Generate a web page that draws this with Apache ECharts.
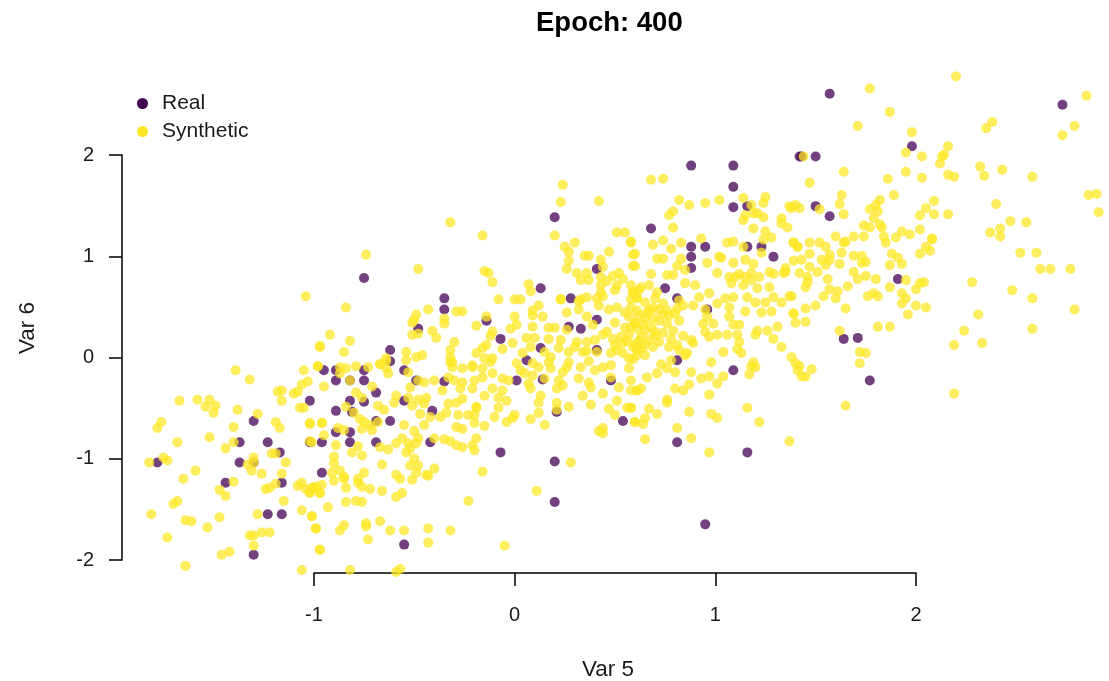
<!DOCTYPE html>
<html>
<head>
<meta charset="utf-8">
<style>html,body{margin:0;padding:0;background:#fff}#c{width:1109px;height:681px}</style>
<script src="https://cdn.jsdelivr.net/npm/echarts@6/dist/echarts.min.js"></script>
</head>
<body>
<div id="c"></div>
<script>
const chartTitle = 'Epoch: 400';
const xName = 'Var 5';
const yName = 'Var 6';
const seriesNames = ['Real', 'Synthetic'];
const xRange = [-1.956, 2.917];
const yRange = [-2.13, 2.774];
const xTickRange = [-1, 2];
const yTickRange = [-2, 2];

const realPoints = [
[-1.78,-1.04],[-1.30,-0.63],[-1.37,-0.84],[-1.23,-0.84],[-1.02,-0.43],[-1.02,-0.84],[-0.96,-0.84],[-1.17,-0.94],[-1.37,-1.04],[-1.30,-1.04],
[-1.44,-1.24],[-1.16,-1.24],[-1.23,-1.55],[-1.16,-1.55],[-1.30,-1.95],[-0.96,-1.14],[-0.75,0.78],[-0.35,0.58],[-0.35,0.47],[-0.48,0.28],
[-0.62,0.07],[-0.62,-0.04],[-0.55,-0.13],[-0.75,-0.13],[-0.89,-0.13],[-0.95,-0.13],[-0.89,-0.23],[-0.82,-0.23],[-0.75,-0.23],[-0.49,-0.23],
[-0.35,-0.24],[-0.69,-0.35],[-0.82,-0.43],[-0.75,-0.44],[-0.55,-0.43],[-0.89,-0.53],[-0.81,-0.54],[-0.41,-0.53],[-0.69,-0.63],[-0.62,-0.63],
[-0.89,-0.74],[-0.82,-0.74],[-0.82,-0.84],[-0.69,-0.84],[-0.42,-0.84],[-0.55,-1.85],[0.20,1.38],[0.41,0.87],[0.13,0.68],[0.28,0.58],
[-0.14,0.36],[-0.07,0.18],[0.27,0.30],[0.33,0.28],[0.41,0.37],[0.13,0.09],[0.06,-0.03],[0.01,-0.23],[0.14,-0.22],[0.41,0.07],
[0.48,-0.23],[0.21,-0.54],[0.54,-0.63],[0.88,1.89],[1.09,1.89],[1.09,1.68],[1.09,1.48],[1.16,1.49],[0.68,1.27],[0.88,1.09],
[0.95,1.09],[0.88,0.99],[0.88,0.88],[1.16,1.09],[1.23,1.09],[1.29,0.99],[1.42,1.98],[0.75,0.68],[0.81,0.58],[0.96,0.47],
[0.81,-0.03],[1.09,-0.13],[0.81,-0.84],[1.16,-0.94],[0.95,-1.65],[0.20,-1.43],[0.20,-1.03],[1.57,2.60],[2.73,2.49],[1.98,2.08],
[1.43,1.98],[1.50,1.98],[1.50,1.49],[1.57,1.39],[1.91,0.77],[1.64,0.18],[1.71,0.19],[1.77,-0.23],[-0.07,-0.94]
];

const syntheticLow = [
[-0.97,0.10],[-1.39,-0.13],[-1.32,-0.22],[-1.05,-0.13],[-0.98,-0.09],[-1.03,-0.24],[-1.06,-0.27],[-1.08,-0.34],[-1.10,-0.36],[-1.16,-0.33],
[-1.18,-0.34],[-1.16,-0.43],[-1.67,-0.43],[-1.58,-0.42],[-1.52,-0.42],[-1.49,-0.48],[-1.54,-0.49],[-1.50,-0.55],[-1.38,-0.52],[-1.28,-0.56],
[-1.07,-0.50],[-1.05,-0.50],[-1.76,-0.64],[-1.78,-0.70],[-1.40,-0.69],[-1.19,-0.64],[-1.17,-0.70],[-1.02,-0.66],[-0.96,-0.65],[-1.52,-0.79],
[-1.68,-0.84],[-1.40,-0.84],[-1.44,-0.90],[-1.02,-0.83],[-1.21,-0.95],[-1.19,-0.95],[-1.14,-1.04],[-1.82,-1.04],[-1.75,-0.99],[-1.73,-1.02],
[-1.30,-0.99],[-1.33,-1.06],[-1.30,-1.04],[-1.59,-1.12],[-1.65,-1.20],[-1.31,-1.12],[-1.26,-1.15],[-1.16,-1.15],[-1.40,-1.23],[-1.47,-1.31],
[-1.44,-1.37],[-1.24,-1.30],[-1.22,-1.29],[-1.19,-1.25],[-1.08,-1.27],[-1.06,-1.24],[-1.04,-1.30],[-1.02,-1.33],[-1.00,-1.29],[-0.96,-1.26],
[-0.97,-1.34],[-1.15,-1.42],[-1.68,-1.42],[-1.70,-1.45],[-1.81,-1.55],[-1.64,-1.61],[-1.61,-1.62],[-1.47,-1.58],[-1.53,-1.68],[-1.28,-1.55],
[-1.06,-1.51],[-1.01,-1.57],[-0.99,-1.69],[-1.73,-1.78],[-1.32,-1.76],[-1.30,-1.76],[-1.26,-1.73],[-1.22,-1.73],[-1.30,-1.86],[-1.42,-1.92],
[-1.46,-1.95],[-0.97,-1.90],[-1.64,-2.06],[-1.06,-2.10]
];

const syntheticMidLeft = [
[-0.74,1.01],[-0.48,0.87],[-1.04,0.60],[-0.84,0.49],[-0.43,0.47],[-0.29,0.45],[-0.26,0.45],[-0.49,0.42],[-0.50,0.37],[-0.51,0.34],
[-0.35,0.38],[-0.35,0.33],[-0.41,0.26],[-0.39,0.19],[-0.51,0.22],[-0.48,0.23],[-0.92,0.22],[-0.82,0.16],[-0.97,0.11],[-0.85,0.05],
[-0.30,0.15],[-0.32,0.07],[-0.54,0.05],[-0.32,0.00],[-0.54,-0.03],[-0.49,0.00],[-0.46,0.02],[-0.64,-0.01],[-0.67,-0.07],[-0.64,-0.04],
[-0.31,-0.05],[-0.98,-0.09],[-0.84,-0.11],[-0.87,-0.10],[-0.79,-0.09],[-0.87,-0.16],[-0.73,-0.10],[-0.67,-0.07],[-0.64,-0.11],[-0.63,-0.16],
[-0.53,-0.15],[-0.48,-0.23],[-0.45,-0.25],[-0.40,-0.23],[-0.32,-0.05],[-0.31,-0.10],[-0.26,-0.11],[-0.21,-0.10],[-0.30,-0.23],[-0.26,-0.25],
[-0.33,-0.20],[-0.36,-0.33],[-0.27,-0.31],[-0.26,-0.41],[-0.33,-0.46],[-0.29,-0.45],[-0.21,-0.31],[-0.20,-0.23],[-0.52,-0.30],[-0.95,-0.29],
[-0.82,-0.23],[-0.79,-0.35],[-0.71,-0.29],[-0.76,-0.40],[-0.84,-0.49],[-0.80,-0.55],[-0.68,-0.48],[-0.65,-0.52],[-0.59,-0.38],[-0.60,-0.45],
[-0.53,-0.40],[-0.48,-0.42],[-0.44,-0.40],[-0.45,-0.46],[-0.51,-0.48],[-0.47,-0.56],[-0.42,-0.59],[-0.34,-0.55],[-0.37,-0.59],[-0.28,-0.57],
[-0.23,-0.57],[-0.19,-0.50],[-0.96,-0.65],[-1.02,-0.65],[-0.77,-0.61],[-0.75,-0.64],[-0.76,-0.71],[-0.72,-0.67],[-0.71,-0.72],[-0.68,-0.64],
[-0.88,-0.70],[-0.85,-0.72],[-0.95,-0.77],[-0.55,-0.67],[-0.45,-0.67],[-0.50,-0.73],[-0.29,-0.69],[-0.26,-0.71],[-0.20,-0.65],[-0.48,-0.80],
[-0.56,-0.80],[-0.59,-0.85],[-0.53,-0.85],[-0.49,-0.85],[-0.67,-0.89],[-0.63,-0.91],[-0.40,-0.80],[-0.35,-0.81],[-0.32,-0.83],[-0.29,-0.87],
[-0.26,-0.89],[-0.21,-0.87],[-0.19,-0.80],[-0.20,-0.92],[-1.01,-0.84],[-0.89,-0.87],[-0.81,-0.94],[-0.78,-0.88],[-0.76,-0.97],[-0.90,-0.98],
[-0.52,-0.90],[-0.54,-0.94],[-0.50,-1.00],[-0.52,-1.07],[-0.48,-1.07],[-0.49,-1.14],[-0.66,-1.06],[-0.40,-1.10],[-0.44,-1.16],[-0.75,-1.14],
[-0.59,-1.16],[-0.90,-1.05],[-0.87,-1.12],[-0.91,-1.14],[-0.85,-1.18],[-0.78,-1.20],[-0.57,-1.20],[-0.51,-1.21],[-0.43,-1.17],[-0.16,-1.13],
[-0.99,-1.28],[-1.01,-1.29],[-1.02,-1.34],[-0.97,-1.34],[-0.90,-1.22],[-0.85,-1.20],[-0.78,-1.24],[-0.76,-1.28],[-0.84,-1.29],[-0.72,-1.30],
[-0.66,-1.32],[-0.56,-1.34],[-0.59,-1.38],[0.11,-1.32],[-0.23,-1.42],[-0.93,-1.48],[-0.84,-1.43],[-0.79,-1.42],[-0.76,-1.43],[-1.01,-1.57],
[-0.99,-1.69],[-0.85,-1.66],[-0.87,-1.71],[-0.74,-1.64],[-0.74,-1.67],[-0.67,-1.62],[-0.62,-1.71],[-0.55,-1.71],[-0.43,-1.69],[-0.32,-1.71],
[-0.73,-1.80],[-0.43,-1.83],[-0.05,-1.86],[-0.97,-1.90],[-0.82,-2.10],[-0.57,-2.09],[-0.59,-2.12],[-0.32,1.33]
];

const syntheticCentre = [
[0.24,1.70],[0.23,1.53],[0.42,1.54],[-0.16,1.20],[0.20,1.20],[0.51,1.23],[0.55,1.23],[0.58,1.14],[0.30,1.13],[0.25,1.09],
[0.27,1.04],[0.47,1.04],[0.35,1.00],[0.37,1.00],[0.59,1.01],[0.27,0.95],[0.43,0.96],[0.44,0.89],[0.26,0.87],[0.59,0.90],
[-0.15,0.85],[-0.13,0.83],[-0.11,0.74],[0.07,0.72],[0.08,0.65],[0.31,0.83],[0.36,0.83],[0.33,0.76],[0.37,0.76],[0.43,0.79],
[0.46,0.75],[0.49,0.80],[0.52,0.83],[0.54,0.77],[0.51,0.71],[0.50,0.66],[0.43,0.71],[0.43,0.64],[0.58,0.71],[0.59,0.64],
[0.62,0.66],[-0.08,0.57],[-0.00,0.57],[0.03,0.57],[0.23,0.57],[0.36,0.59],[0.33,0.57],[0.41,0.58],[0.44,0.60],[0.61,0.59],
[-0.14,0.40],[-0.00,0.40],[0.12,0.51],[0.09,0.46],[0.14,0.40],[0.09,0.41],[-0.19,0.31],[-0.11,0.25],[-0.12,0.21],[-0.02,0.28],
[0.01,0.32],[-0.01,0.14],[-0.06,0.08],[-0.14,0.12],[-0.16,0.09],[-0.19,0.04],[0.09,0.30],[0.17,0.29],[0.20,0.29],[0.06,0.19],
[0.10,0.19],[0.17,0.18],[0.04,0.04],[0.08,0.10],[0.15,0.05],[0.26,0.44],[0.26,0.27],[0.32,0.47],[0.36,0.40],[0.23,0.57],
[0.32,0.55],[0.42,0.51],[0.47,0.47],[0.39,0.32],[0.46,0.25],[0.50,0.34],[0.58,0.57],[0.51,0.49],[0.57,0.40],[0.60,0.34],
[0.55,0.29],[0.40,0.17],[0.31,0.15],[0.23,0.17],[0.36,0.15],[0.27,0.05],[0.34,0.05],[0.41,0.05],[0.48,0.04],[0.54,0.14],
[0.59,0.10],[0.54,0.04],[0.57,-0.01],[0.61,0.02],[0.51,0.07],[-0.15,-0.01],[-0.11,-0.01],[-0.21,-0.08],[-0.16,-0.11],[-0.12,-0.05],
[0.01,-0.06],[0.03,-0.13],[0.09,-0.06],[0.17,-0.05],[0.18,-0.11],[0.26,-0.10],[0.24,-0.15],[0.33,-0.10],[0.40,-0.13],[0.44,-0.10],
[0.48,-0.08],[0.57,-0.11],[-0.16,-0.20],[-0.11,-0.16],[-0.06,-0.21],[-0.03,-0.23],[0.09,-0.18],[0.15,-0.21],[0.22,-0.23],[0.32,-0.21],
[0.37,-0.25],[0.48,-0.20],[0.07,-0.26],[0.08,-0.31],[0.21,-0.31],[0.24,-0.28],[0.38,-0.30],[0.34,-0.38],[0.52,-0.30],[0.58,-0.33],
[0.61,-0.33],[0.44,-0.36],[-0.11,-0.31],[-0.06,-0.33],[-0.15,-0.38],[-0.08,-0.40],[-0.04,-0.43],[0.13,-0.38],[0.12,-0.45],[0.21,-0.45],
[0.27,-0.49],[0.38,-0.47],[0.51,-0.43],[-0.19,-0.49],[-0.08,-0.50],[0.08,-0.61],[0.12,-0.55],[0.00,-0.57],[-0.01,-0.60],[-0.04,-0.64],
[-0.10,-0.59],[-0.20,-0.57],[0.47,-0.51],[0.50,-0.57],[0.58,-0.50],[0.60,-0.64],[0.15,-0.67],[-0.15,-0.68],[0.44,-0.70],[0.21,-0.52],
[0.56,-0.50],[0.74,1.76],[0.68,1.75],[0.82,1.55],[0.87,1.50],[0.95,1.52],[1.02,1.55],[1.14,1.57],[1.25,1.58],[1.24,1.52],
[1.18,1.50],[0.79,1.44],[0.77,1.40],[1.15,1.40],[1.14,1.35],[1.19,1.42],[1.21,1.42],[1.24,1.38],[1.38,1.47],[1.37,1.49],
[1.40,1.50],[1.33,1.37],[1.33,1.32],[1.36,1.28],[0.79,1.28],[1.19,1.27],[1.25,1.24],[1.28,1.18],[1.24,1.16],[0.93,1.17],
[0.83,1.13],[0.74,1.15],[0.69,1.11],[0.58,1.13],[0.60,1.02],[0.78,1.07],[1.06,1.13],[1.09,1.14],[1.14,1.09],[1.23,1.03],
[1.39,1.13],[1.41,1.09],[0.71,0.97],[0.74,0.97],[0.83,0.97],[1.03,0.98],[1.15,0.96],[0.60,0.90],[0.96,0.93],[0.81,0.90],
[1.09,0.93],[1.19,0.92],[1.39,0.95],[1.02,0.99],[0.85,0.86],[0.68,0.82],[0.76,0.81],[0.79,0.81],[1.01,0.83],[1.12,0.82],
[1.15,0.79],[1.35,0.88],[1.35,0.84],[1.29,0.82],[1.34,0.83],[1.18,0.83],[1.07,0.79],[1.27,0.84],[1.22,0.79],[1.10,0.79],
[1.18,0.76],[0.28,-1.04],[0.44,-0.75],[0.42,-0.73],[0.64,-0.66]
];

const syntheticRightDense = [
[0.59,0.64],[0.63,0.69],[0.67,0.71],[0.71,0.64],[0.70,0.58],[0.65,0.54],[0.61,0.58],[0.58,0.49],[0.61,0.46],[0.67,0.46],
[0.74,0.53],[0.76,0.46],[0.77,0.41],[0.69,0.39],[0.65,0.38],[0.60,0.33],[0.61,0.28],[0.65,0.26],[0.76,0.33],[0.82,0.36],
[0.79,0.26],[0.70,0.25],[0.74,0.24],[0.63,0.20],[0.67,0.17],[0.60,0.13],[0.65,0.12],[0.69,0.10],[0.84,0.21],[0.88,0.17],
[0.89,0.14],[0.77,0.10],[0.81,0.12],[0.82,0.07],[0.86,0.04],[0.85,0.02],[0.61,0.07],[0.65,0.02],[0.59,-0.02],[0.78,-0.03],
[0.73,-0.07],[0.76,-0.11],[0.88,-0.15],[0.80,-0.15],[0.71,-0.16],[0.66,-0.20],[0.58,-0.23],[0.63,-0.31],[0.61,-0.33],[0.80,-0.31],
[0.84,-0.33],[0.87,-0.27],[0.93,-0.21],[0.97,-0.19],[1.01,-0.26],[1.04,-0.19],[0.98,-0.05],[1.04,0.05],[0.97,-0.37],[0.76,-0.42],
[0.76,-0.45],[0.58,-0.50],[0.67,-0.51],[0.71,-0.56],[0.65,-0.60],[0.60,-0.64],[0.87,-0.54],[0.81,-0.70],[0.65,-0.81],[0.88,-0.80],
[1.16,-0.50],[0.98,-0.56],[1.01,-0.60],[1.22,-0.64],[0.97,-0.94],[1.37,-0.83],[1.29,0.18],[1.33,0.10],[1.38,0.00],[1.40,-0.06],
[1.42,-0.09],[1.41,-0.13],[1.45,-0.19],[1.19,-0.05],[1.18,-0.09],[1.20,-0.10],[1.17,-0.17],[1.11,0.08],[1.13,0.04],[1.12,0.15],
[1.11,0.22],[1.12,0.32],[1.09,0.32],[1.07,0.40],[1.06,0.22],[1.01,0.22],[0.97,0.20],[0.95,0.25],[0.99,0.33],[0.94,0.33],
[0.96,0.40],[0.95,0.47],[1.01,0.53],[0.92,0.59],[0.97,0.63],[0.89,0.51],[0.84,0.51],[0.82,0.56],[0.81,0.48],[1.07,0.49],
[1.09,0.59],[1.05,0.58],[1.16,0.59],[1.20,0.54],[1.25,0.54],[1.29,0.59],[1.33,0.54],[1.38,0.60],[1.15,0.45],[1.23,0.44],
[1.28,0.45],[1.39,0.43],[1.40,0.34],[1.31,0.30],[1.26,0.26],[1.21,0.26],[1.20,0.22],[1.08,0.73],[1.14,0.71],[1.27,0.69],
[1.21,0.68],[0.90,0.71],[0.85,0.73],
[0.62,0.41],[0.64,0.32],[0.68,0.30],[0.72,0.36],[0.70,0.21],[0.72,0.15],[0.62,0.16],[0.57,0.22],[0.56,0.16],[0.74,0.42],
[0.78,0.18],[0.66,0.44],[0.55,0.44],[0.53,0.20],[0.49,0.18],[0.69,0.49],[0.72,0.47],[0.80,0.43],[0.58,0.30],[0.63,0.09],
[0.50,0.12],[0.44,0.22],[0.36,0.06],[0.30,0.10],[0.22,0.09],[0.18,0.00],[0.12,-0.10],[0.05,-0.16],[0.27,-0.05],[0.37,-0.04]
];

const syntheticRight = [
[1.77,2.65],[2.85,2.58],[1.87,2.42],[1.71,2.28],[2.79,2.28],[2.38,2.32],[2.35,2.26],[2.73,2.19],[1.98,2.22],[2.13,1.98],
[2.16,2.08],[2.14,2.00],[1.95,2.02],[2.03,1.98],[1.44,1.98],[2.12,1.91],[2.32,1.88],[2.43,1.85],[2.34,1.79],[2.58,1.78],
[1.64,1.83],[1.86,1.76],[1.95,1.83],[2.03,1.77],[2.16,1.80],[2.19,1.78],[1.47,1.72],[1.63,1.60],[1.89,1.60],[1.62,1.51],
[2.86,1.60],[2.90,1.61],[1.64,1.41],[1.82,1.55],[1.80,1.50],[1.77,1.46],[1.81,1.44],[1.79,1.37],[2.09,1.54],[2.05,1.47],
[2.02,1.40],[2.09,1.41],[2.16,1.41],[2.40,1.51],[2.91,1.43],[1.52,1.46],[1.42,1.47],[1.74,1.30],[1.77,1.28],[1.82,1.31],
[1.83,1.28],[1.84,1.19],[2.02,1.26],[1.93,1.24],[1.97,1.21],[2.47,1.34],[2.55,1.33],[2.42,1.27],[2.37,1.23],[2.42,1.19],
[1.60,1.19],[1.69,1.19],[1.74,1.19],[1.65,1.14],[1.90,1.18],[2.08,1.17],[1.39,1.13],[1.41,1.09],[1.47,1.13],[1.52,1.13],
[1.55,1.09],[1.64,1.13],[1.85,1.13],[2.08,1.16],[2.05,1.09],[2.07,1.05],[2.02,1.02],[1.47,1.02],[1.57,1.01],[1.63,1.03],
[1.69,1.00],[1.73,1.00],[1.88,1.02],[1.91,0.98],[2.52,1.03],[2.60,1.03],[2.62,0.87],[2.67,0.87],[2.77,0.87],[1.43,0.96],
[1.53,0.96],[1.57,0.96],[1.75,0.94],[1.73,0.93],[1.47,0.89],[1.55,0.91],[1.62,0.92],[1.87,0.91],[1.93,0.92],[2.02,0.73],
[1.42,0.83],[1.51,0.84],[1.69,0.84],[1.75,0.80],[1.46,0.79],[1.56,0.77],[1.71,0.77],[1.80,0.77],[1.95,0.76],[2.04,0.74],
[2.28,0.74],[1.46,0.74],[1.45,0.69],[1.66,0.70],[1.87,0.69],[2.00,0.67],[1.57,0.67],[1.61,0.65],[1.79,0.63],[1.93,0.63],
[2.48,0.66],[1.37,0.60],[1.54,0.60],[1.60,0.58],[1.76,0.60],[1.81,0.60],[1.95,0.58],[2.58,0.58],[1.93,0.53],[2.00,0.51],
[2.05,0.49],[1.45,0.48],[1.50,0.51],[1.65,0.48],[2.79,0.47],[1.39,0.43],[1.96,0.42],[2.31,0.42],[1.45,0.35],[1.81,0.30],
[1.87,0.30],[2.58,0.28],[1.62,0.26],[2.24,0.26],[2.19,0.12],[2.33,0.14],[1.72,0.05],[1.75,0.04],[1.72,-0.06],[1.48,-0.12],
[1.43,-0.19],[2.19,-0.36],[1.65,-0.48],[2.20,2.77]
];

const syntheticPoints = [].concat(syntheticLow, syntheticMidLeft, syntheticCentre, syntheticRightDense, syntheticRight);

const chart = echarts.init(document.getElementById('c'), null, {renderer: 'canvas'});
const font = '"Liberation Sans", Arial, sans-serif';
const textColor = '#1a1a1a';
const axisLine = {show: true, lineStyle: {color: '#000', width: 1.5}};
const axisTick = {show: true, length: 13, lineStyle: {color: '#000', width: 1.5}};

chart.setOption({
  animation: false,
  backgroundColor: '#fff',
  title: {text: chartTitle, left: 531, top: 4,
    textStyle: {fontFamily: font, fontSize: 27.5, fontWeight: 'bold', color: '#000'}},
  legend: {
    left: 132, top: 88, orient: 'vertical', itemGap: 7, itemWidth: 11, itemHeight: 11,
    icon: 'circle', data: seriesNames,
    itemStyle: {opacity: 1},
    textStyle: {fontFamily: font, fontSize: 21, color: textColor, padding: [0, 0, 0, 9]}
  },
  grid: [
    {left: 122, right: 9, top: 76, bottom: 108},
    {left: 314, width: 602, top: 500, height: 73},
    {left: 122, width: 100, top: 155, height: 405}
  ],
  xAxis: [
    {gridIndex: 0, type: 'value', min: xRange[0], max: xRange[1], show: false, splitLine: {show: false}},
    {gridIndex: 1, type: 'value', min: xTickRange[0], max: xTickRange[1], interval: 1, position: 'bottom',
      axisLine: axisLine, axisTick: axisTick, splitLine: {show: false},
      axisLabel: {fontFamily: font, fontSize: 20, color: textColor, margin: 32}},
    {gridIndex: 2, type: 'value', min: 0, max: 1, show: false}
  ],
  yAxis: [
    {gridIndex: 0, type: 'value', min: yRange[0], max: yRange[1], show: false, splitLine: {show: false}},
    {gridIndex: 1, type: 'value', min: 0, max: 1, show: false},
    {gridIndex: 2, type: 'value', min: yTickRange[0], max: yTickRange[1], interval: 1, position: 'left',
      axisLine: axisLine, axisTick: axisTick, splitLine: {show: false},
      axisLabel: {fontFamily: font, fontSize: 20, color: textColor, margin: 28}}
  ],
  graphic: [
    {type: 'text', left: 582, top: 658, style: {text: xName, font: '22.5px ' + font, fill: textColor}},
    {type: 'text', x: 28, y: 328, rotation: Math.PI / 2, style: {text: yName, font: '22.5px ' + font, fill: textColor, align: 'center', verticalAlign: 'middle'}}
  ],
  series: [
    {name: seriesNames[0], type: 'scatter', xAxisIndex: 0, yAxisIndex: 0, data: realPoints, symbolSize: 10,
      itemStyle: {color: '#440154', opacity: 0.75}},
    {name: seriesNames[1], type: 'scatter', xAxisIndex: 0, yAxisIndex: 0, data: syntheticPoints, symbolSize: 10,
      itemStyle: {color: '#FDE725', opacity: 0.75}}
  ]
});
</script>
</body>
</html>
